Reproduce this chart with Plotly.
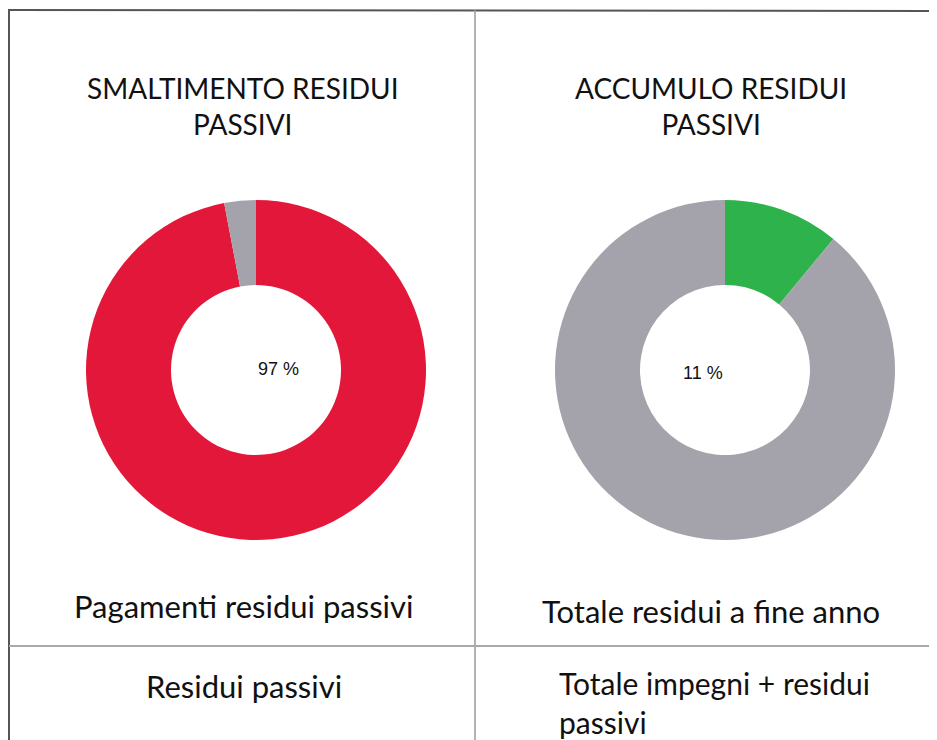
import plotly.graph_objects as go

# page has an 8px body margin; figure coordinates = screen coordinates - 8
OFF = 8
W, H = 937 - OFF, 740 - OFF

# Data
chart_titles = ["SMALTIMENTO RESIDUI<br>PASSIVI", "ACCUMULO RESIDUI<br>PASSIVI"]
labels_1 = ["Pagamenti residui passivi", "Residui passivi non pagati"]
values_1 = [97, 3]
labels_2 = ["Totale residui a fine anno", "Altro"]
values_2 = [11, 89]
numerator_texts = ["Pagamenti residui passivi", "Totale residui a fine anno"]
denominator_texts = ["Residui passivi", "Totale impegni + residui<br>passivi"]

colors_1 = ["#E3173A", "#A4A3AB"]
colors_2 = ["#2EB24B", "#A4A3AB"]

def px(x):
    return (x - OFF) / W

def py(y):
    return 1 - (y - OFF) / H

fig = go.Figure()

r = 170
for (cx, cy), labels, values, colors in [((256, 370), labels_1, values_1, colors_1),
                                          ((725, 370), labels_2, values_2, colors_2)]:
    fig.add_trace(go.Pie(
        labels=labels, values=values, hole=0.5, sort=False, direction="clockwise",
        rotation=0, marker=dict(colors=colors, line=dict(width=0)),
        textinfo="none", hoverinfo="label+value", showlegend=False,
        domain=dict(x=[px(cx - r), px(cx + r)], y=[py(cy + r), py(cy - r)]),
    ))

font_main = "Lato, 'Open Sans', sans-serif"
ann = []
# titles
ann.append(dict(x=px(243), y=py(106), text=chart_titles[0]))
ann.append(dict(x=px(711), y=py(106), text=chart_titles[1]))
for a in ann:
    a.update(xref="paper", yref="paper", showarrow=False, xanchor="center", yanchor="middle",
             font=dict(family=font_main, size=28, color="#111"), align="center")

# center percentages
for cx, cy, v in [(256, 369, values_1[0]), (725, 373, values_2[0])]:
    ann.append(dict(x=px(cx), y=py(cy), xref="paper", yref="paper", showarrow=False,
                    text=f"{v} %", font=dict(family="Liberation Sans, Arial, sans-serif", size=18, color="#111")))

# numerator / denominator texts
ann.append(dict(x=px(243), y=py(606), text=numerator_texts[0], xanchor="center", size=31))
ann.append(dict(x=px(711), y=py(611), text=numerator_texts[1], xanchor="center", size=31))
ann.append(dict(x=px(244), y=py(686), text=denominator_texts[0], xanchor="center", size=31))
ann.append(dict(x=px(557), y=py(702), text=denominator_texts[1], xanchor="left", align="left", size=30))
for a in ann[-4:]:
    sz = a.pop("size")
    a.update(xref="paper", yref="paper", showarrow=False, yanchor="middle",
             font=dict(family=font_main, size=sz, color="#111"))

shapes = [
    dict(type="line", x0=px(9), x1=1, y0=py(10), y1=py(11), line=dict(color="#555", width=2)),
    dict(type="line", x0=px(9), x1=px(9), y0=py(9), y1=0, line=dict(color="#555", width=2)),
    dict(type="line", x0=px(475), x1=px(475), y0=py(10), y1=0, line=dict(color="#999", width=1.5)),
    dict(type="line", x0=px(9), x1=1, y0=py(646), y1=py(646), line=dict(color="#aaa", width=2)),
]
for s in shapes:
    s.update(xref="paper", yref="paper")

fig.update_layout(width=W, height=H, margin=dict(l=0, r=0, t=0, b=0),
                  paper_bgcolor="white", plot_bgcolor="white",
                  annotations=ann, shapes=shapes)

fig.write_html("out.html")
